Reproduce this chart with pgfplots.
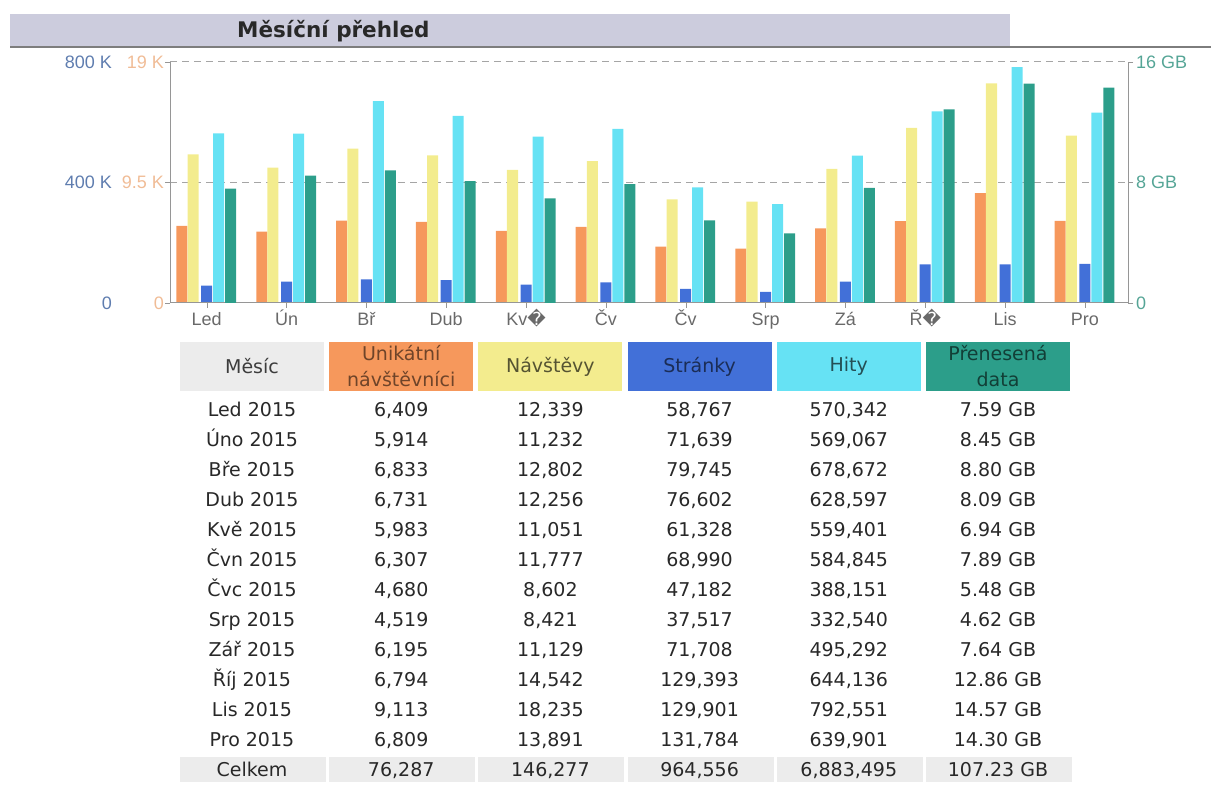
\documentclass[border=0pt]{standalone}
\usepackage{fontspec}
\setmainfont{DejaVu Sans}
\newfontfamily\arialf{Liberation Sans}
\newfontfamily\dejavu{DejaVu Sans}
\usepackage{pgfplots}
\usepackage{pgfplotstable}
\pgfplotsset{compat=1.18}

\definecolor{cU}{RGB}{246,152,92}
\definecolor{cV}{RGB}{243,236,142}
\definecolor{cP}{RGB}{66,112,216}
\definecolor{cH}{RGB}{102,226,244}
\definecolor{cK}{RGB}{44,158,138}
\definecolor{hdrG}{RGB}{236,236,236}
\definecolor{titleBG}{RGB}{204,204,221}
\definecolor{axgray}{RGB}{150,150,150}
\definecolor{gridgray}{RGB}{165,165,165}
\definecolor{labOr}{RGB}{240,188,150}
\definecolor{labBl}{RGB}{95,125,175}
\definecolor{labTe}{RGB}{85,165,150}
\definecolor{labX}{RGB}{105,105,105}
\definecolor{txt}{RGB}{40,40,40}

\newcommand{\rep}{{\dejavu\char"FFFD\relax}}

\pgfplotstableread{
x u v p h k
0 6409 12339 58767 570342 7.59
1 5914 11232 71639 569067 8.45
2 6833 12802 79745 678672 8.80
3 6731 12256 76602 628597 8.09
4 5983 11051 61328 559401 6.94
5 6307 11777 68990 584845 7.89
6 4680 8602 47182 388151 5.48
7 4519 8421 37517 332540 4.62
8 6195 11129 71708 495292 7.64
9 6794 14542 129393 644136 12.86
10 9113 18235 129901 792551 14.57
11 6809 13891 131784 639901 14.30
}\monthly

\pgfplotsset{
  base/.style={
    scale only axis, width=958bp, height=241bp,
    at={(170bp,504bp)}, anchor=south west,
    xmin=-0.46, xmax=11.54, ymin=0,
    scaled y ticks=false,
    tick align=outside, major tick length=5bp,
    tick label style={font=\arialf\fontsize{18bp}{20bp}\selectfont},
    bar width=0.138,
  }
}

\begin{document}
\begin{tikzpicture}[x=1bp,y=1bp]
\path[use as bounding box] (0,0) rectangle (1211,807);

% title bar
\fill[titleBG] (10,761) rectangle (1010,793);
\draw[draw={rgb,255:red,125;green,125;blue,125}, line width=2bp] (10,760) -- (1211,760);
\node[anchor=west, inner sep=0pt, text=txt, font=\bfseries\fontsize{21.5bp}{24bp}\selectfont] at (237,776) {Měsíční přehled};

% axis A: visitors / visits
\begin{axis}[base, ymax=20000, hide x axis,
  axis y line*=left, axis line style={-,draw=axgray,line width=1bp},
  ytick={0,10000,20000}, yticklabels={0,9.5 K,19 K},
  yticklabel style={text=labOr, inner sep=1bp},
  ytick style={draw=axgray},
  ymajorgrids, grid style={draw=gridgray, dash pattern=on 7bp off 5bp, line width=1bp}]
\addplot[ybar, bar shift=-0.31, fill=cU, draw=none] table[x=x,y=u]{\monthly};
\addplot[ybar, bar shift=-0.17, fill=cV, draw=none] table[x=x,y=v]{\monthly};
\end{axis}

% axis B: pages / hits
\begin{axis}[base, ymax=810000, hide x axis,
  axis y line*=left, axis line style={draw=none},
  ytick={0,405000,810000}, yticklabels={0,400 K,800 K},
  yticklabel style={text=labBl, inner sep=1bp, xshift=-52bp},
  ytick style={draw=none}]
\addplot[ybar, bar shift=0, fill=cP, draw=none] table[x=x,y=p]{\monthly};
\addplot[ybar, bar shift=0.15, fill=cH, draw=none] table[x=x,y=h]{\monthly};
\end{axis}

% axis C: bandwidth
\begin{axis}[base, ymax=16,
  axis x line*=bottom, axis y line*=right,
  axis line style={-,draw=axgray,line width=1bp},
  xtick={0,...,11},
  xticklabels={Led,Ún,Bř,Dub,Kv\rep,Čv,Čv,Srp,Zá,Ř\rep,Lis,Pro},
  xticklabel style={text=labX, anchor=north, text height=13bp, text depth=4bp, inner sep=4bp},
  ytick={0,8,16}, yticklabels={0,8 GB,16 GB},
  yticklabel style={text=labTe, inner sep=3bp},
  tick style={draw=axgray}]
\addplot[ybar, bar shift=0.30, fill=cK, draw=none] table[x=x,y=k]{\monthly};
\end{axis}

% table header
\foreach \j/\col in {0/hdrG,1/cU,2/cV,3/cP,4/cH,5/cK}{
  \fill[\col] ({180+149.2*\j},416) rectangle ({324+149.2*\j},465);
}
\tikzset{hdr/.style={align=center, inner sep=0pt, font=\fontsize{19bp}{26bp}\selectfont}}
\node[hdr, text={rgb,255:red,60;green,60;blue,60}] at (252,440.5) {Měsíc};
\node[hdr, text=cU!45!black] at (401.2,440.5) {Unikátní\\návštěvníci};
\node[hdr, text=cV!35!black] at (550.4,440.5) {Návštěvy};
\node[hdr, text=cP!40!black] at (699.6,440.5) {Stránky};
\node[hdr, text=cH!35!black] at (848.8,440.5) {Hity};
\node[hdr, text=cK!40!black] at (998,440.5) {Přenesená\\data};

% table rows
\tikzset{cell/.style={anchor=base, inner sep=0pt, text=txt, font=\fontsize{19bp}{22bp}\selectfont}}
\foreach \m/\a/\b/\c/\d/\e [count=\i from 0] in {
  Led 2015/{6,409}/{12,339}/{58,767}/{570,342}/7.59 GB,
  Úno 2015/{5,914}/{11,232}/{71,639}/{569,067}/8.45 GB,
  Bře 2015/{6,833}/{12,802}/{79,745}/{678,672}/8.80 GB,
  Dub 2015/{6,731}/{12,256}/{76,602}/{628,597}/8.09 GB,
  Kvě 2015/{5,983}/{11,051}/{61,328}/{559,401}/6.94 GB,
  Čvn 2015/{6,307}/{11,777}/{68,990}/{584,845}/7.89 GB,
  Čvc 2015/{4,680}/{8,602}/{47,182}/{388,151}/5.48 GB,
  Srp 2015/{4,519}/{8,421}/{37,517}/{332,540}/4.62 GB,
  Zář 2015/{6,195}/{11,129}/{71,708}/{495,292}/7.64 GB,
  Říj 2015/{6,794}/{14,542}/{129,393}/{644,136}/12.86 GB,
  Lis 2015/{9,113}/{18,235}/{129,901}/{792,551}/14.57 GB,
  Pro 2015/{6,809}/{13,891}/{131,784}/{639,901}/14.30 GB}{
  \pgfmathsetmacro\yy{390-30*\i}
  \node[cell] at (252,\yy) {\m};
  \node[cell] at (401.2,\yy) {\a};
  \node[cell] at (550.4,\yy) {\b};
  \node[cell] at (699.6,\yy) {\c};
  \node[cell] at (848.8,\yy) {\d};
  \node[cell] at (998,\yy) {\e};
}

% total row
\foreach \j in {0,...,5}{
  \fill[hdrG] ({180+149.2*\j},25) rectangle ({326+149.2*\j},50);
}
\node[cell] at (252,30) {Celkem};
\node[cell] at (401.2,30) {76,287};
\node[cell] at (550.4,30) {146,277};
\node[cell] at (699.6,30) {964,556};
\node[cell] at (848.8,30) {6,883,495};
\node[cell] at (998,30) {107.23 GB};
\end{tikzpicture}
\end{document}
